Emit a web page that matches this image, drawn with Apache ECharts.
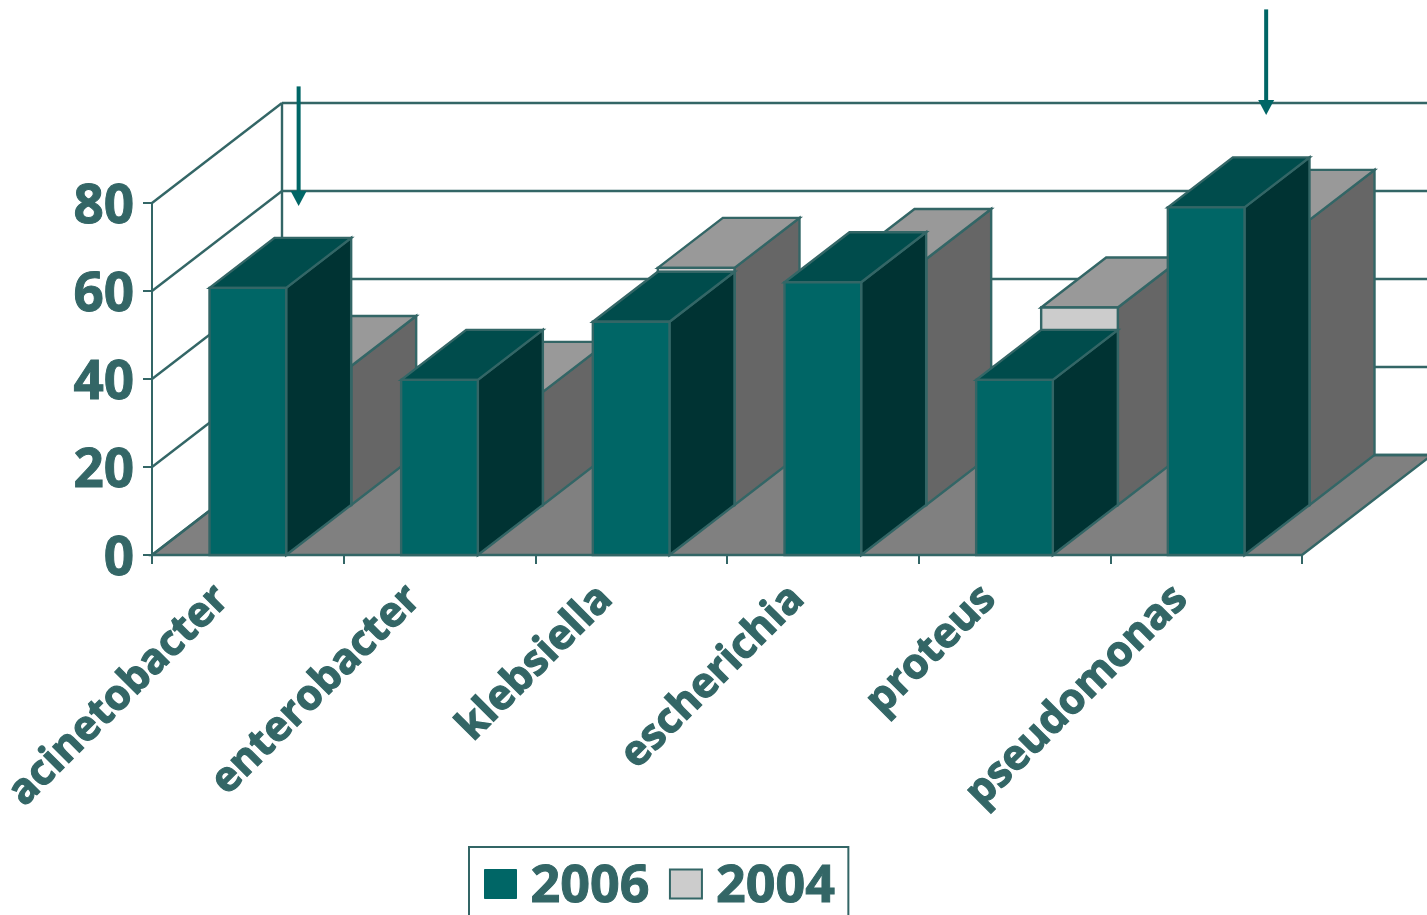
<!DOCTYPE html>
<html><head><meta charset="utf-8">
<style>html,body{margin:0;padding:0;background:#fff;overflow:hidden}#c{width:1427px;height:915px}</style>
<script src="https://cdn.jsdelivr.net/npm/echarts@6/dist/echarts.min.js"></script>
</head><body><div id="c"></div>
<script>
const categories = ['acinetobacter','enterobacter','klebsiella','escherichia','proteus','pseudomonas'];
const values2006 = [60.7, 39.8, 53, 62, 39.8, 79];
const values2004 = [31.6, 25.7, 53.9, 55.9, 44.9, 64.8];
const yTicks = [0, 20, 40, 60, 80];
const arrowCategories = ['acinetobacter', 'pseudomonas'];
const arrowShift = [0.265, 0.313];
const arrowFrom = [106.5, 124];
const arrowTo = [79.3, 100];

const INK = '#336666', FONT = '"Open Sans", sans-serif';
const DX = 65, DY = -50;
const BAR = 0.4;
const faces = {
  '2006': { front: '#006666', top: '#004c4c', side: '#003333' },
  '2004': { front: '#cccccc', top: '#999999', side: '#666666' }
};
const poly = (pts, fill) => ({ type: 'polygon', shape: { points: pts },
  style: { fill, stroke: INK, lineWidth: 2.4, lineJoin: 'miter' } });
const seg = (a, b) => ({ type: 'line', shape: { x1: a[0], y1: a[1], x2: b[0], y2: b[1] },
  style: { stroke: INK, lineWidth: 2.4, fill: null } });

function barRenderer(key, depth) {
  return function (params, api) {
    const c = faces[key];
    const top = api.coord([api.value(0), api.value(1)]);
    const base = api.coord([api.value(0), 0]);
    const w = api.size([1, 0])[0] * BAR;
    const ox = DX * depth, oy = DY * depth;
    const l = top[0] - w / 2 + ox, r = top[0] + w / 2 + ox;
    const t = top[1] + oy, b = base[1] + oy;
    return { type: 'group', children: [
      poly([[r, t], [r + DX, t + DY], [r + DX, b + DY], [r, b]], c.side),
      poly([[l, t], [l + DX, t + DY], [r + DX, t + DY], [r, t]], c.top),
      poly([[l, t], [r, t], [r, b], [l, b]], c.front)
    ]};
  };
}

function wallRenderer(params, api) {
  const band = api.size([1, 0])[0];
  const n = categories.length;
  const x0 = api.coord([0, 0])[0] - band / 2;
  const x1 = api.coord([n - 1, 0])[0] + band / 2;
  const ox = 2 * DX, oy = 2 * DY;
  const children = [];
  const y0 = api.coord([0, 0])[1];
  children.push(poly([[x0, y0], [x1, y0], [x1 + ox, y0 + oy], [x0 + ox, y0 + oy]], '#808080'));
  yTicks.forEach(v => {
    const y = api.coord([0, v])[1];
    children.push(seg([x0, y], [x0 + ox, y + oy]));
    children.push(seg([x0 + ox, y + oy], [x1 + ox, y + oy]));
  });
  const yTop = api.coord([0, yTicks[yTicks.length - 1]])[1];
  children.push(seg([x0 + ox, yTop + oy], [x0 + ox, y0 + oy]));
  return { type: 'group', children };
}

function arrowRenderer(params, api) {
  const i = api.value(0);
  const band = api.size([1, 0])[0];
  const a = api.coord([i, api.value(1)]);
  const b = api.coord([i, api.value(2)]);
  const x = a[0] + band * arrowShift[params.dataIndex];
  return { type: 'group', children: [
    { type: 'rect', shape: { x: x - 2, y: a[1], width: 4, height: b[1] - 14 - a[1] }, style: { fill: '#006666' } },
    { type: 'polygon', shape: { points: [[x - 8, b[1] - 15], [x + 8, b[1] - 15], [x, b[1]]] }, style: { fill: '#006666' } }
  ]};
}

const pairs = vals => categories.map((c, i) => [c, vals[i]]);
const bigText = (size, h) => ({ color: INK, fontFamily: FONT, fontWeight: 'bold', fontSize: size,
  textBorderColor: INK, textBorderWidth: 1, lineHeight: 72, height: h, verticalAlign: 'bottom' });

const option = {
  animation: false,
  backgroundColor: '#fff',
  grid: { left: 152, right: 125, top: 203, bottom: 360, outerBoundsMode: 'none' },
  legend: {
    left: 469, top: 847, orient: 'horizontal',
    padding: [7, 13, 20, 15], itemGap: 19, itemWidth: 32, itemHeight: 29,
    borderColor: INK, borderWidth: 2, backgroundColor: '#fff',
    formatter: '{t|{name}}',
    textStyle: { color: INK, fontFamily: FONT, fontWeight: 'bold', fontSize: 52, padding: [0, 0, 0, 9],
      rich: { t: bigText(52, 66) } },
    data: [
      { name: '2006', icon: 'rect', itemStyle: { color: '#006666', borderColor: '#006666', borderWidth: 1 } },
      { name: '2004', icon: 'rect', itemStyle: { color: '#cccccc', borderColor: INK, borderWidth: 2 } }
    ]
  },
  xAxis: {
    type: 'category', data: categories, z: 5,
    axisLine: { lineStyle: { color: INK, width: 2 } },
    axisTick: { show: true, length: 9, alignWithLabel: false, lineStyle: { color: INK, width: 2 } },
    axisLabel: { interval: 0, rotate: 45, margin: 12, color: INK, fontFamily: FONT, fontWeight: 'bold', fontSize: 42,
      padding: [0, 36, 0, 0], textBorderColor: INK, textBorderWidth: 1.2 }
  },
  yAxis: {
    type: 'value', min: 0, max: 80, interval: 20, z: 5,
    splitLine: { show: false },
    axisLine: { show: true, lineStyle: { color: INK, width: 2 } },
    axisTick: { show: true, length: 9, lineStyle: { color: INK, width: 2 } },
    axisLabel: { margin: 18, formatter: '{t|{value}}', rich: { t: bigText(53, 62) } }
  },
  series: [
    { type: 'custom', name: 'walls', z: 1, silent: true, data: [[categories[0], 0]],
      encode: { x: 0, y: 1 }, renderItem: wallRenderer },
    { type: 'custom', name: '2004', z: 2, data: pairs(values2004), encode: { x: 0, y: 1 },
      itemStyle: { color: '#cccccc', borderColor: INK }, renderItem: barRenderer('2004', 1) },
    { type: 'custom', name: '2006', z: 3, data: pairs(values2006), encode: { x: 0, y: 1 },
      itemStyle: { color: '#006666' }, renderItem: barRenderer('2006', 0) },
    { type: 'custom', name: 'arrows', z: 6, silent: true,
      data: arrowCategories.map((c, i) => [c, arrowFrom[i], arrowTo[i]]),
      encode: { x: 0, y: 1 }, renderItem: arrowRenderer }
  ]
};
const chart = echarts.init(document.getElementById('c'), null, { renderer: 'canvas', width: 1427, height: 915 });
chart.setOption(option);
</script>
</body></html>
